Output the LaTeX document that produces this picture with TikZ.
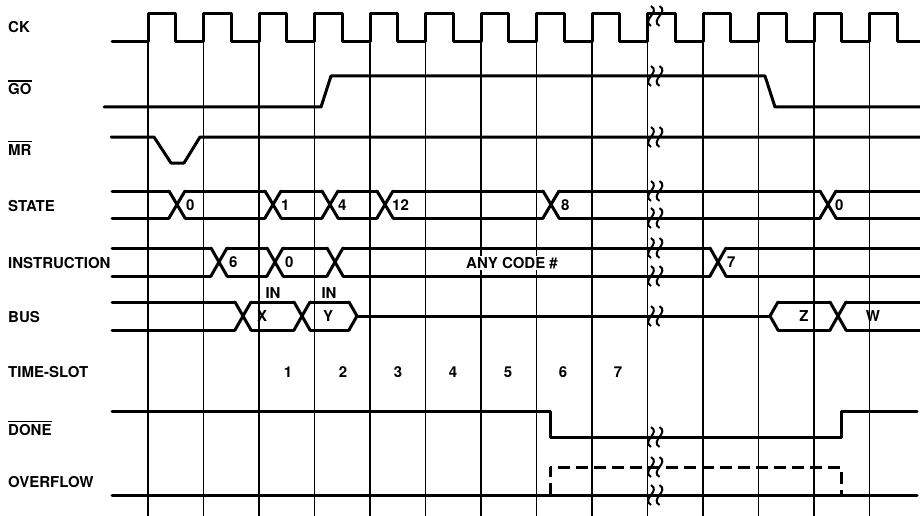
\documentclass[tikz,border=0pt]{standalone}
\usepackage{fontspec}
\setmainfont{TeX Gyre Heros}
\usepackage{tikz}

% overbar for active-low signal names
\newcommand\notsig[1]{\setbox0\hbox{#1}\rlap{\rule[13pt]{\wd0}{1.5pt}}\box0}

\tikzset{
  sig/.style={line width=3pt, line cap=round, line join=round},
  gridline/.style={line width=1.3pt},
  lbl/.style={anchor=base west, inner sep=0pt},
  val/.style={anchor=west, inner sep=0pt},
  brk/.pic={
    \draw[line width=2pt] (-4,-10) .. controls (6,-4) and (-14,4) .. (-4,10);
    \draw[line width=2pt] (4.5,-10) .. controls (14.5,-4) and (-5.5,4) .. (4.5,10);
  }
}

\begin{document}
\begin{tikzpicture}[x=1pt, y=-1pt, every node/.style={font=\fontsize{15}{17}\selectfont\bfseries}]
  \fill[white] (0,0) rectangle (920,516);
  \useasboundingbox (0,0) rectangle (920,516);

  % --- signal names ---
  \node[lbl] (ck) at (8,32.5) {CK};
  \node[lbl] (go) at (8,95) {\notsig{GO}};
  \node[lbl] (mr) at (8,155) {\notsig{MR}};
  \node[lbl] (state) at (8,211) {STATE};
  \node[lbl] (instr) at (8,268) {INSTRUCTION};
  \node[lbl] (bus) at (8,322) {BUS};
  \node[lbl] (slot) at (8,377) {TIME-SLOT};
  \node[lbl] (done) at (8,435) {\notsig{DONE}};
  \node[lbl] (ovf) at (8,487) {OVERFLOW};

  % --- clock grid ---
  \foreach \i in {0,...,13}
    \draw[gridline] (148+55.5*\i,14) -- (148+55.5*\i,516);

  % --- CK, GO, MR ---
  \draw[sig] (112,42) \foreach \i in {0,...,13} { -- (148+55.5*\i,42) -- (148+55.5*\i,14) -- (175.75+55.5*\i,14) -- (175.75+55.5*\i,42) } -- (920,42);
  \draw[sig] (104,107) -- (321,107) -- (331,76) -- (765,76) -- (775,107) -- (920,107);
  \draw[sig] (111,137) -- (154,137) -- (171,163) -- (184,163) -- (200,137) -- (920,137);

  % --- STATE ---
  \foreach \c in {177,273,330,385,551,828}
    \draw[sig] (\c-8,191) -- (\c+8,218) (\c-8,218) -- (\c+8,191);
  \foreach \a/\b in {112/169,185/265,281/322,338/377,393/543,559/820,836/920}
    \draw[sig] (\a,191) -- (\b,191) (\a,218) -- (\b,218);
  \node[val] (s0) at (186,205) {0};
  \node[val] (s1) at (281,205) {1};
  \node[val] (s4) at (338,205) {4};
  \node[val] (s12) at (392,205) {12};
  \node[val] (s8) at (561,205) {8};
  \node[val] (s0b) at (835,205) {0};

  % --- INSTRUCTION ---
  \foreach \c in {219,275,335,718}
    \draw[sig] (\c-8,248) -- (\c+8,276) (\c-8,276) -- (\c+8,248);
  \foreach \a/\b in {112/211,227/267,283/327,343/710,726/920}
    \draw[sig] (\a,248) -- (\b,248) (\a,276) -- (\b,276);
  \node[val] (i6) at (229,262) {6};
  \node[val] (i0) at (285,262) {0};
  \node[val] (i7) at (727,262) {7};
  \node[fill=white, inner sep=1pt] (anycode) at (512,263) {ANY CODE \#};

  % --- BUS ---
  \foreach \c in {243,302,838}
    \draw[sig] (\c-8,302) -- (\c+8,330) (\c-8,330) -- (\c+8,302);
  \foreach \a/\b in {112/235,251/294,310/349,778/830,846/920}
    \draw[sig] (\a,302) -- (\b,302) (\a,330) -- (\b,330);
  \draw[sig] (349,302) -- (357,316) -- (349,330);
  \draw[sig] (357,316) -- (770,316);
  \draw[sig] (778,302) -- (770,316) -- (778,330);
  \node (inx) at (273,293) {IN};
  \node (iny) at (329,293) {IN};
  \node[inner sep=0pt] (x) at (262,316) {X};
  \node[inner sep=0pt] (y) at (328,316) {Y};
  \node[inner sep=0pt] (z) at (804,316) {Z};
  \node[inner sep=0pt] (w) at (873,316) {W};

  % --- TIME-SLOT ---
  \foreach \n in {1,...,7}
    \node (t\n) at (233+55*\n,372) {\n};

  % --- DONE, OVERFLOW ---
  \draw[sig] (112,411) -- (550,411) -- (550,437) -- (841,437) -- (841,411) -- (917,411);
  \draw[sig] (112,495) -- (917,495);
  \draw[sig, line cap=butt, dash pattern=on 12pt off 6pt] (550,495) -- (550,467) -- (841,467) -- (841,495);

  % --- time break ---
  \foreach \y in {16,76,137,191,218,248,276,316,437,467,495}
    \pic at (655,\y) {brk};
\end{tikzpicture}
\end{document}
